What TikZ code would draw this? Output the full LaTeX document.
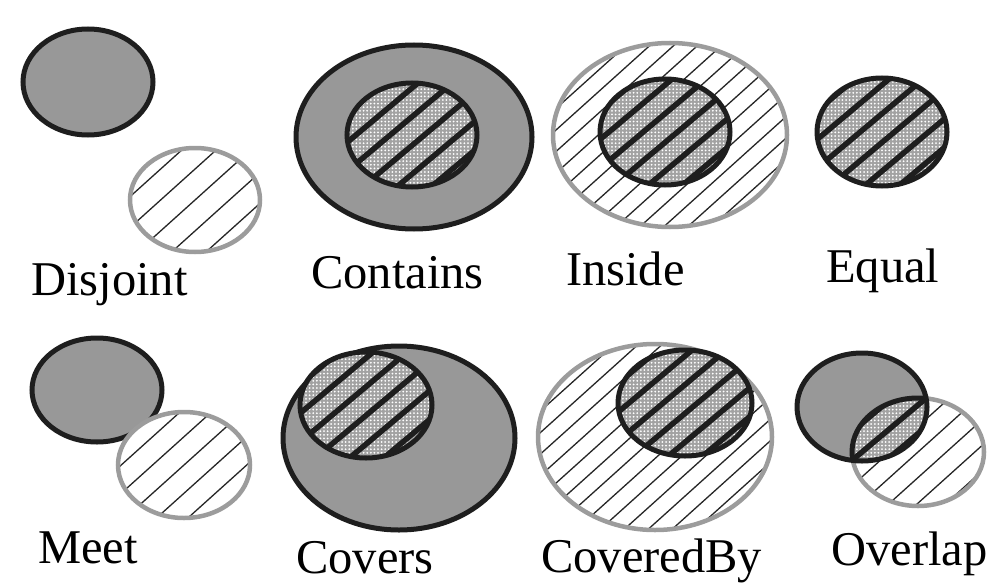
\documentclass[tikz,border=0pt]{standalone}
\usepackage{fontspec}
\setmainfont{Liberation Serif}
\usetikzlibrary{patterns}
\pgfdeclarepatternformonly{halftone}{\pgfpoint{-1.8pt}{-1.8pt}}{\pgfpoint{1.8pt}{1.8pt}}{\pgfpoint{3.6pt}{3.6pt}}{\pgfpathcircle{\pgfpointorigin}{1.0pt}\pgfusepath{fill}}

\definecolor{outdark}{HTML}{1E1E1E}
\definecolor{fillgray}{HTML}{989898}
\definecolor{ringgray}{HTML}{9C9C9C}
\definecolor{dotgray}{HTML}{A2A2A2}

\tikzset{
  darkring/.style={draw=outdark, line width=5pt},
  grayring/.style={draw=ringgray, line width=4.5pt},
  solidfill/.style={fill=fillgray},
  hatchline/.style={draw=black!85, line width=1.3pt},
  stripeline/.style={draw=outdark, line width=5.5pt},
  lbl/.style={anchor=base west, inner sep=0pt, font=\fontsize{48.5}{52}\selectfont}
}

% hatched white region: cx cy rx ry spacing
\newcommand\hatchfill[5]{%
  \fill[white] (#1,#2) ellipse [x radius=#3, y radius=#4];
  \begin{scope}
    \clip (#1,#2) ellipse [x radius=#3, y radius=#4];
    \begin{scope}[shift={(#1,#2)}, rotate=42]
      \foreach \k in {-16,...,16} {\draw[hatchline] (-260,\k*#5) -- (260,\k*#5);}
    \end{scope}
  \end{scope}}

% halftone region with thick stripes: cx cy rx ry
\newcommand\halftonefill[4]{%
  \fill[dotgray] (#1,#2) ellipse [x radius=#3, y radius=#4];
  \fill[pattern=halftone, pattern color=white] (#1,#2) ellipse [x radius=#3, y radius=#4];
  \begin{scope}
    \clip (#1,#2) ellipse [x radius=#3, y radius=#4];
    \begin{scope}[shift={(#1,#2)}, rotate=40]
      \foreach \k in {-6,...,6} {\draw[stripeline] (-200,\k*22+8) -- (200,\k*22+8);}
    \end{scope}
  \end{scope}}

\begin{document}
\begin{tikzpicture}[x=1pt, y=-1pt]
\useasboundingbox (0,0) rectangle (993,586);

% ---------- Disjoint
\fill[solidfill] (88,82) ellipse [x radius=65, y radius=53];
\draw[darkring] (88,82) ellipse [x radius=65, y radius=53];
\hatchfill{195}{200}{65}{52}{23}
\draw[grayring] (195,200) ellipse [x radius=65, y radius=52];
\node[lbl] (disjoint) at (31,295) {Disjoint};

% ---------- Contains
\fill[solidfill] (414,137) ellipse [x radius=118, y radius=92];
\draw[darkring] (414,137) ellipse [x radius=118, y radius=92];
\halftonefill{412}{135}{65}{52}
\draw[darkring] (412,135) ellipse [x radius=65, y radius=52];
\node[lbl] (contains) at (311,288) {Contains};

% ---------- Inside
\hatchfill{670}{135}{117}{92}{16}
\draw[grayring] (670,135) ellipse [x radius=117, y radius=92];
\halftonefill{665}{132}{65}{53}
\draw[darkring] (665,132) ellipse [x radius=65, y radius=53];
\node[lbl] (inside) at (566,285) {Inside};

% ---------- Equal
\halftonefill{882}{132}{65}{54}
\draw[darkring] (882,132) ellipse [x radius=65, y radius=54];
\node[lbl] (equal) at (826,282) {Equal};

% ---------- Meet
\fill[solidfill] (97,390) ellipse [x radius=65, y radius=52];
\draw[darkring] (97,390) ellipse [x radius=65, y radius=52];
\hatchfill{184}{465}{66}{53}{21}
\draw[grayring] (184,465) ellipse [x radius=66, y radius=53];
\node[lbl] (meet) at (38,563) {Meet};

% ---------- Covers
\fill[solidfill] (399,438) ellipse [x radius=116, y radius=92];
\draw[darkring] (399,438) ellipse [x radius=116, y radius=92];
\halftonefill{366}{405}{66}{53}
\draw[darkring] (366,405) ellipse [x radius=66, y radius=53];
\node[lbl] (covers) at (296,573) {Covers};

% ---------- CoveredBy
\hatchfill{655}{437}{117}{93}{16}
\draw[grayring] (655,437) ellipse [x radius=117, y radius=93];
\halftonefill{685}{403}{67}{53}
\draw[darkring] (685,403) ellipse [x radius=67, y radius=53];
\node[lbl] (coveredby) at (541,572) {CoveredBy};

% ---------- Overlap
\hatchfill{918}{452}{66}{54}{19}
\draw[grayring] (918,452) ellipse [x radius=66, y radius=54];
\fill[solidfill] (862,407) ellipse [x radius=65, y radius=54];
\begin{scope}
  \clip (862,407) ellipse [x radius=65, y radius=54];
  \halftonefill{918}{452}{66}{54}
  \draw[darkring] (918,452) ellipse [x radius=66, y radius=54];
\end{scope}
\draw[darkring] (862,407) ellipse [x radius=65, y radius=54];
\node[lbl] (overlap) at (831,565) {Overlap};
\end{tikzpicture}
\end{document}
